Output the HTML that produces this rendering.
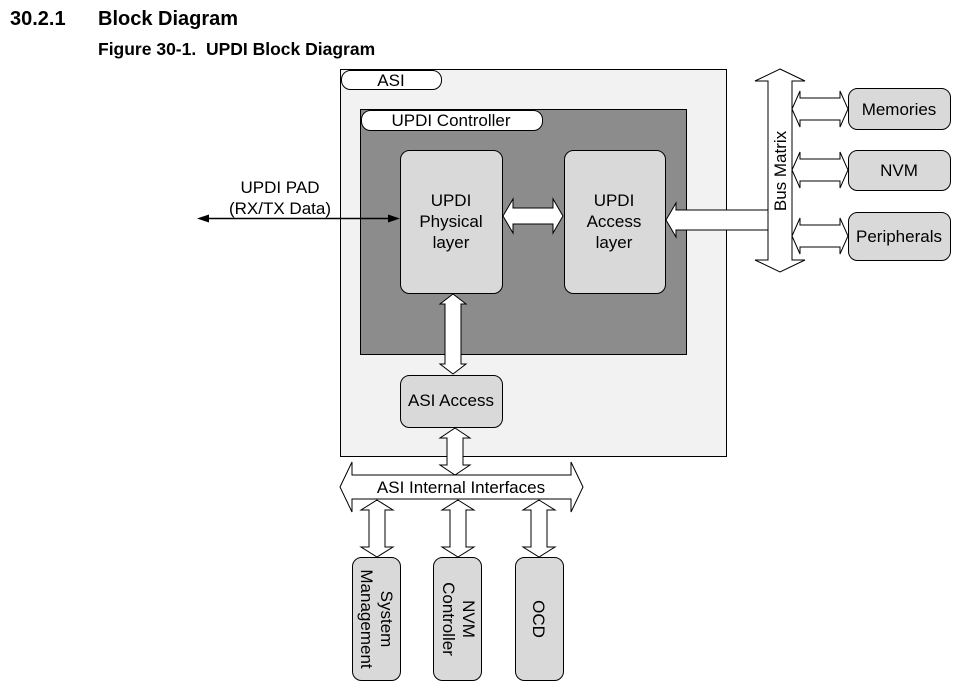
<!DOCTYPE html>
<html><head><meta charset="utf-8"><style>
body{margin:0;background:#fff;}
svg{display:block;font-family:"Liberation Sans",Arial,sans-serif;}
</style></head><body>
<svg width="964" height="697" viewBox="0 0 964 697" xmlns="http://www.w3.org/2000/svg">
<text x="10" y="25" font-size="20" font-weight="bold">30.2.1</text>
<text x="98" y="25" font-size="20" font-weight="bold">Block Diagram</text>
<text x="98" y="55" font-size="17.5" font-weight="bold" xml:space="preserve">Figure 30-1.  UPDI Block Diagram</text>

<g stroke="#000" stroke-width="1">
<rect x="340.5" y="69.5" width="386" height="387" fill="#f2f2f2"/>
<rect x="341.5" y="70.5" width="100" height="19" rx="9" fill="#fff"/>
<rect x="360.5" y="109.5" width="326" height="245" fill="#8c8c8c"/>
<rect x="361.5" y="110.5" width="181" height="20" rx="9" fill="#fff"/>
<rect x="400.5" y="150.5" width="102" height="143" rx="9" fill="#d9d9d9"/>
<rect x="564.5" y="150.5" width="101" height="143" rx="9" fill="#d9d9d9"/>
<rect x="400.5" y="375.5" width="102" height="52" rx="9" fill="#d9d9d9"/>
<rect x="848.5" y="88.5" width="102" height="41" rx="9" fill="#d9d9d9"/>
<rect x="848.5" y="150.5" width="102" height="40" rx="9" fill="#d9d9d9"/>
<rect x="848.5" y="212.5" width="102" height="48" rx="9" fill="#d9d9d9"/>
<rect x="352.5" y="557.5" width="48" height="123" rx="9" fill="#d9d9d9"/>
<rect x="433.5" y="557.5" width="48" height="123" rx="9" fill="#d9d9d9"/>
<rect x="515.5" y="557.5" width="48" height="123" rx="9" fill="#d9d9d9"/>

<g fill="#fff">
<polygon points="503,216 513,199 513,208 553,208 553,199 563,216 553,233 553,224 513,224 513,233"/>
<polygon points="666,220 676,203 676,210 770,210 770,230 676,230 676,237"/>
<polygon points="780,69 805,81 792,81 792,260 805,260 780,272 755,260 768,260 768,81 755,81"/>
<polygon points="792,109 800,91 800,98 840,98 840,91 848,109 840,127 840,120 800,120 800,127"/>
<polygon points="792,170 800,152 800,159 840,159 840,152 848,170 840,188 840,181 800,181 800,188"/>
<polygon points="792,236 800,218 800,225 840,225 840,218 848,236 840,254 840,247 800,247 800,254"/>
<polygon points="453,294 466,304 461,304 461,364 466,364 453,374 440,364 445,364 445,304 440,304"/>
<polygon points="455,428 470,438 463,438 463,465 470,465 455,475 440,465 447,465 447,438 440,438"/>
<polygon points="340,487 352,462 352,475 571,475 571,462 583,487 571,512 571,499 352,499 352,512"/>
<polygon points="377,500 393,510 385,510 385,547 393,547 377,557 361,547 369,547 369,510 361,510"/>
<polygon points="458,500 474,510 466,510 466,547 474,547 458,557 442,547 450,547 450,510 442,510"/>
<polygon points="539,500 555,510 547,510 547,547 555,547 539,557 523,547 531,547 531,510 523,510"/>
</g>
<line x1="205" y1="218.5" x2="392" y2="218.5" stroke-width="1.5"/>
</g>
<polygon points="197,218.5 209,214.5 209,222.5" fill="#000"/>
<polygon points="400,218.5 388,214.5 388,222.5" fill="#000"/>

<g font-size="17" text-anchor="middle" fill="#000">
<text x="391" y="86">ASI</text>
<text x="451" y="126">UPDI Controller</text>
<text x="451" y="206">UPDI</text>
<text x="451" y="227">Physical</text>
<text x="451" y="248">layer</text>
<text x="614" y="206">UPDI</text>
<text x="614" y="227">Access</text>
<text x="614" y="248">layer</text>
<text x="451" y="406">ASI Access</text>
<text x="461" y="493">ASI Internal Interfaces</text>
<text x="280" y="193">UPDI PAD</text>
<text x="280" y="214">(RX/TX Data)</text>
<text x="899" y="115">Memories</text>
<text x="899" y="176">NVM</text>
<text x="899" y="242">Peripherals</text>
<text transform="translate(786,171) rotate(-90)">Bus Matrix</text>
<text transform="translate(381,619) rotate(90)">System</text>
<text transform="translate(361,619) rotate(90)">Management</text>
<text transform="translate(463,619) rotate(90)">NVM</text>
<text transform="translate(443,619) rotate(90)">Controller</text>
<text transform="translate(533,619) rotate(90)">OCD</text>
</g>
</svg>
</body></html>
